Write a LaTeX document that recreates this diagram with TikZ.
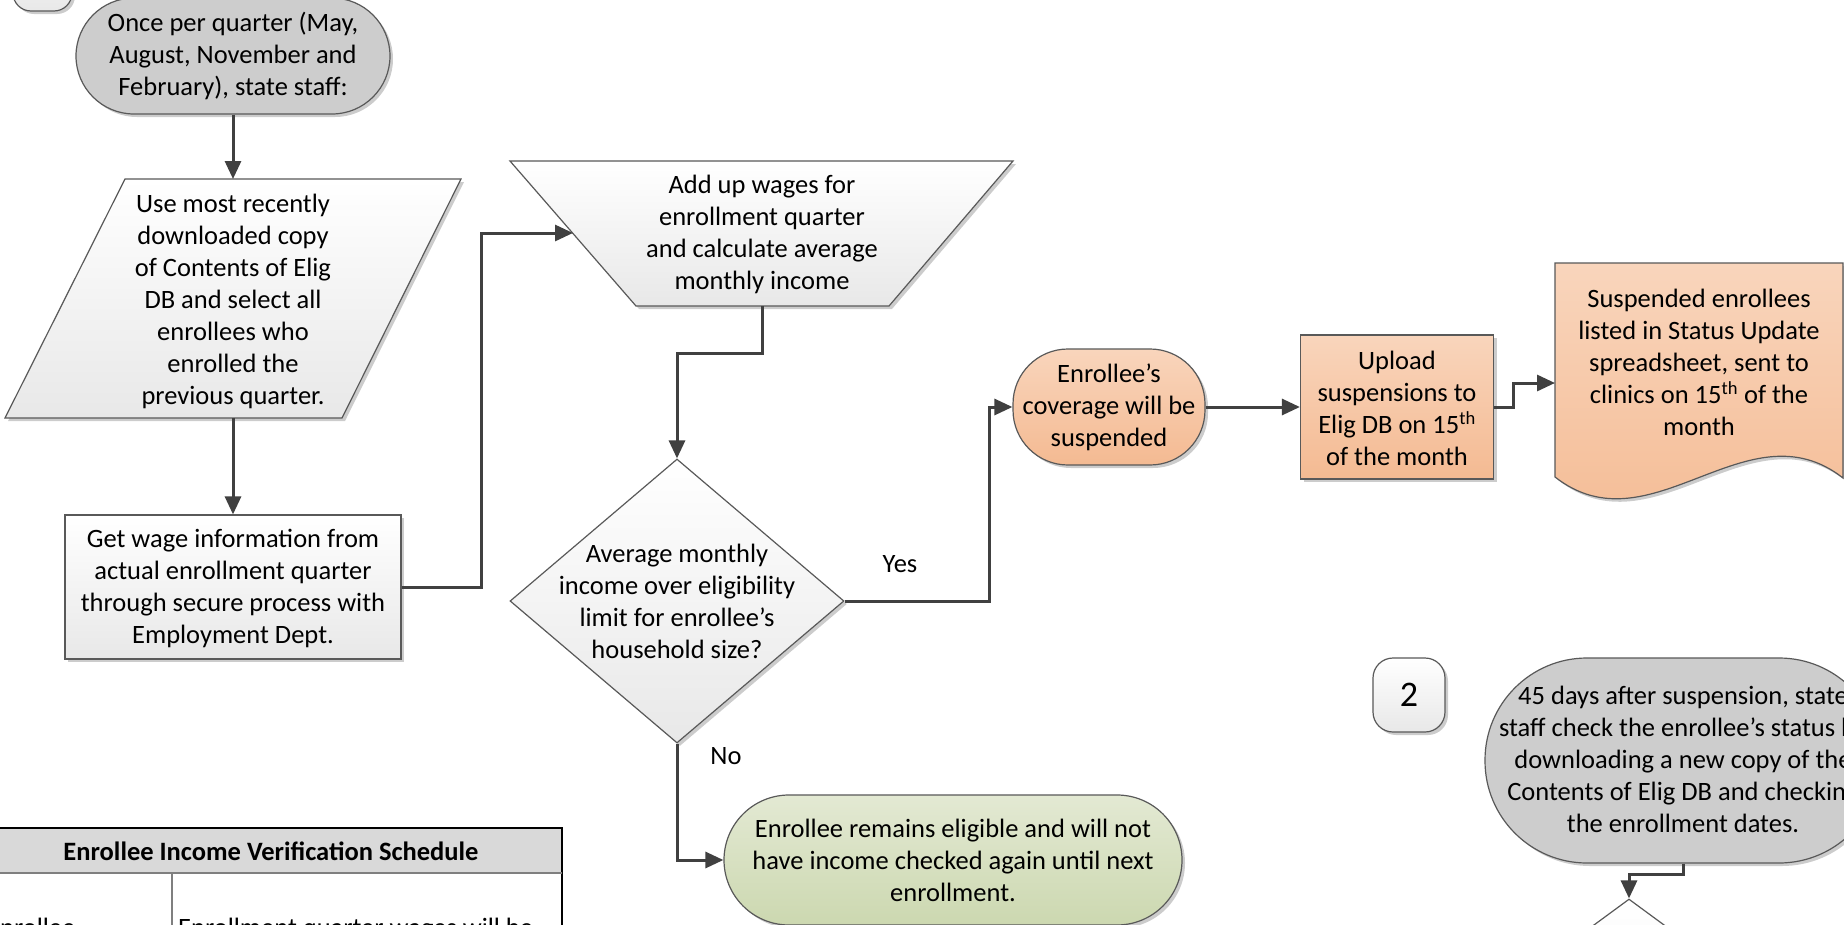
\documentclass[tikz,border=0pt]{standalone}
\usepackage{fontspec}
\setmainfont{Carlito}
\usetikzlibrary{arrows.meta,shapes.geometric,shadows,calc}
\definecolor{linec}{HTML}{404040}
\definecolor{borderc}{HTML}{595959}
\definecolor{grayterm}{HTML}{CDCDCD}
\definecolor{lightbot}{HTML}{E8E8E8}
\definecolor{orangetop}{HTML}{F9D5BC}
\definecolor{orangebot}{HTML}{F4BA92}
\definecolor{greentop}{HTML}{E3E9D3}
\definecolor{greenbot}{HTML}{CCD8B0}
\definecolor{hdr}{HTML}{D9D9D9}
\definecolor{tblgray}{HTML}{7F7F7F}
\tikzset{
  outline/.style={draw=borderc, line width=1.2pt},
  shad/.style={drop shadow={shadow xshift=3pt, shadow yshift=-3pt, opacity=0.2, fill=black}},
  wbox/.style={outline, top color=white, bottom color=lightbot, shad},
  obox/.style={outline, top color=orangetop, bottom color=orangebot, shad},
  gbox/.style={outline, top color=greentop, bottom color=greenbot, shad},
  greybox/.style={outline, fill=grayterm, shad},
  conn/.style={draw=linec, line width=3pt, -{Triangle[length=18pt,width=16pt]}},
  txt/.style={align=center, font=\fontsize{26.5}{32}\selectfont, inner sep=0pt, text=black},
}
\begin{document}
\begin{tikzpicture}[x=1pt,y=-1pt]
\fill[white] (0,0) rectangle (1844,924);
\useasboundingbox (0,0) rectangle (1844,924);

% top-left numbered box (mostly off page)
\node[wbox, rounded corners=18pt, minimum width=59pt, minimum height=74pt, inner sep=0pt] (one) at (42.5,-26) {};

% start terminator
\node[greybox, rounded corners=58pt, minimum width=314pt, minimum height=116pt, inner sep=0pt] (start) at (233,56) {};
\node[txt] (starttxt) at (233,56) {Once per quarter (May,\\August, November and\\February), state staff:};

% parallelogram
\path[wbox] (125,179) -- (461,179) -- (342,418) -- (5,418) -- cycle;
\coordinate (parain) at (233,179);
\coordinate (paraout) at (233,418);
\node[txt] (paratxt) at (233,301) {Use most recently\\downloaded copy\\of Contents of Elig\\DB and select all\\enrollees who\\enrolled the\\previous quarter.};

% wage rectangle
\node[wbox, minimum width=336pt, minimum height=144pt, inner sep=0pt] (wage) at (233,587) {};
\node[txt] (wagetxt) at (233,588) {Get wage information from\\actual enrollment quarter\\through secure process with\\Employment Dept.};

% trapezoid
\path[wbox] (510,161) -- (1013,161) -- (889,306) -- (636,306) -- cycle;
\coordinate (trapin) at (573,233);
\coordinate (trapout) at (762,306);
\node[txt] (traptxt) at (762,234) {Add up wages for\\enrollment quarter\\and calculate average\\monthly income};

% decision
\node[wbox, diamond, minimum width=334pt, minimum height=284pt, inner sep=0pt] (dec) at (677,601) {};
\node[txt] (dectxt) at (677,601) {Average monthly\\income over eligibility\\limit for enrollee’s\\household size?};

% suspended terminator
\node[obox, rounded corners=55pt, minimum width=192pt, minimum height=116pt, inner sep=0pt] (cov) at (1109,407) {};
\node[txt] (covtxt) at (1109,407) {Enrollee’s\\coverage will be\\suspended};

% upload
\node[obox, minimum width=193pt, minimum height=144pt, inner sep=0pt] (up) at (1397,407) {};
\node[txt] (uptxt) at (1397,408) {Upload\\suspensions to\\Elig DB on 15\textsuperscript{th}\\of the month};

% document
\path[obox] (1555,263) -- (1843,263) -- (1843,478) .. controls (1747,403) and (1651,552) .. (1555,477) -- cycle;
\coordinate (docin) at (1555,383);
\node[txt] (doctxt) at (1699,362) {Suspended enrollees\\listed in Status Update\\spreadsheet, sent to\\clinics on 15\textsuperscript{th} of the\\month};

% green terminator
\node[gbox, rounded corners=65pt, minimum width=458pt, minimum height=130pt, inner sep=0pt] (elig) at (953,860) {};
\node[txt] (eligtxt) at (953,860) {Enrollee remains eligible and will not\\have income checked again until next\\enrollment.};

% number 2 box
\node[wbox, rounded corners=20pt, minimum width=72pt, minimum height=74pt, inner sep=0pt] (two) at (1409,695) {};
\node[inner sep=0pt, font=\fontsize{36}{40}\selectfont] (twotxt) at (1409,695) {2};

% 45 days terminator
\node[greybox, rounded corners=102pt, minimum width=396pt, minimum height=205pt, inner sep=0pt] (t45) at (1683,760.5) {};
\node[txt] (t45txt) at (1683,759) {45 days after suspension, state\\staff check the enrollee’s status by\\downloading a new copy of the\\Contents of Elig DB and checking\\the enrollment dates.};

% second decision (mostly off page)
\node[wbox, diamond, minimum width=400pt, minimum height=294pt, inner sep=0pt] (dec2) at (1629,1046) {};

% table
\fill[hdr] (-20,828) rectangle (562,873);
\draw[black, line width=1.5pt] (-20,828) rectangle (562,1000);
\draw[tblgray, line width=2.5pt] (-20,873) -- (562,873);
\draw[tblgray, line width=1.5pt] (172,873) -- (172,1000);
\node[txt, font=\fontsize{26.5}{32}\selectfont\bfseries] (tblhead) at (271,851) {Enrollee Income Verification Schedule};
\node[txt, anchor=north west] (tblc1) at (-13,918) {Enrollee};
\node[txt, anchor=north west] (tblc2) at (178,918) {Enrollment quarter wages will be};

% connectors
\draw[conn] (start.south) -- (parain);
\draw[conn] (paraout) -- (wage.north);
\draw[conn] (wage.east) -- (481,587) |- (trapin);
\draw[conn] (trapout) -- (762,353) -| (dec.north);
\draw[conn] (dec.east) -- (989,601) |- (cov.west);
\draw[conn] (dec.south) |- (elig.west);
\draw[conn] (cov.east) -- (up.west);
\draw[conn] (up.east) -- (1513,407) |- (docin);
\draw[conn] (t45.south) -- (1683,874) -| (dec2.north);

% labels
\node[txt] (yes) at (900,564) {Yes};
\node[txt] (no) at (726,756) {No};
\end{tikzpicture}
\end{document}
